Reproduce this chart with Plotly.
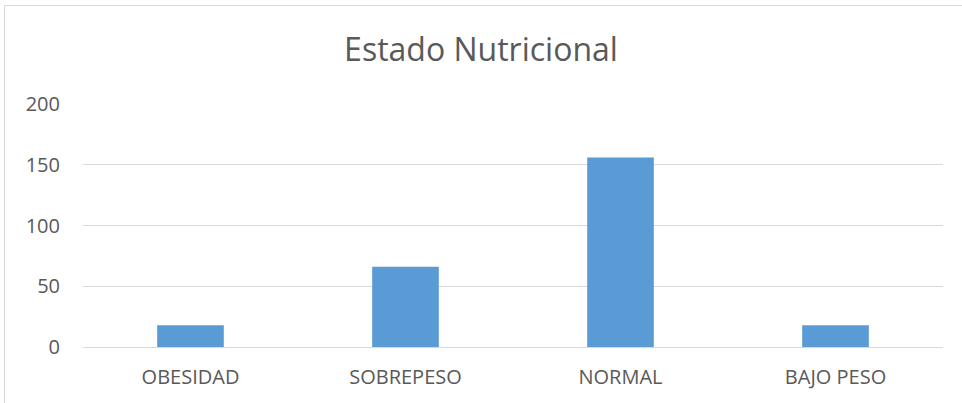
import plotly.graph_objects as go

categories = ["OBESIDAD", "SOBREPESO", "NORMAL", "BAJO PESO"]
values = [18, 66, 156, 18]
y_ticks = [0, 50, 100, 150, 200]

W, H = 962, 403
L, R, T, B = 83, 19, 104, 56
pw, ph = W - L - R, H - T - B

fig = go.Figure(go.Bar(x=categories, y=values, marker_color="#5B9BD5",
                       marker_line_width=0))
fig.update_layout(
    width=W, height=H,
    margin=dict(l=L, r=R, t=T, b=B),
    paper_bgcolor="white", plot_bgcolor="white",
    bargap=0.69,
    font=dict(family="Open Sans", color="#595959", size=18),
    title=dict(text="Estado Nutricional", x=0.5, xanchor="center",
               y=1 - 50 / H, yanchor="middle",
               font=dict(size=32, color="#595959", family="Open Sans")),
    showlegend=False,
)
fig.update_yaxes(range=[0, 200], tickvals=y_ticks, showgrid=True,
                 gridcolor="#D9D9D9", gridwidth=1, zeroline=False,
                 showline=False, ticks="", ticklen=0,
                 tickfont=dict(size=20), ticklabelstandoff=22)
fig.update_xaxes(showline=True, linecolor="#D9D9D9", linewidth=1,
                 ticks="", tickfont=dict(size=20), ticklabelstandoff=12)
# chart border
fig.add_shape(type="rect", xref="paper", yref="paper",
              x0=(4.5 - L) / pw, x1=(W + 10 - L) / pw,
              y0=-(H + 10 - T - ph) / ph, y1=1 + (T - 5.5) / ph,
              line=dict(color="#D9D9D9", width=1), layer="below")
fig.write_html("out.html", config={"displayModeBar": False},
               post_script="document.body.style.margin='0';document.body.style.overflow='hidden';")
